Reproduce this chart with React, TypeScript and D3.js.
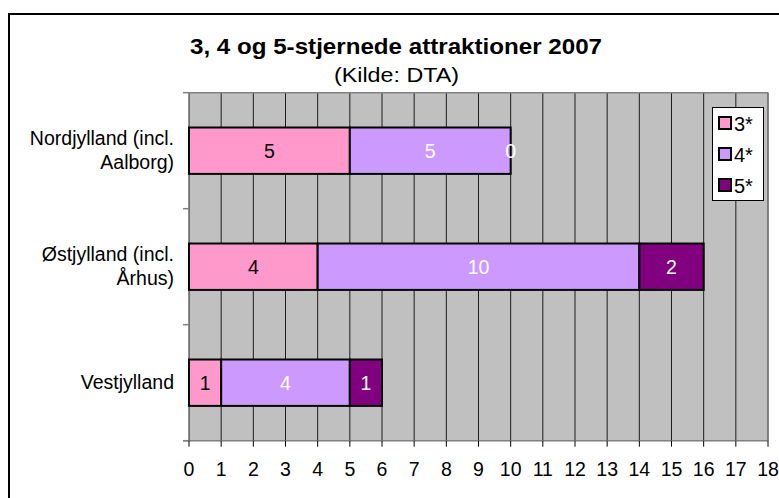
import React from "react";
import * as d3 from "d3";

const categories = ["Nordjylland (incl. Aalborg)", "Østjylland (incl. Århus)", "Vestjylland"];
const categoryLines = [["Nordjylland (incl.", "Aalborg)"], ["Østjylland (incl.", "Århus)"], ["Vestjylland"]];
const seriesNames = ["3*", "4*", "5*"];
const s3 = [5, 4, 1];
const s4 = [5, 10, 4];
const s5 = [0, 2, 1];
const xTicks = d3.range(0, 19);
const colors = ["#FF99CC", "#CC99FF", "#800080"];
const labelColors = ["#000000", "#FFFFFF", "#FFFFFF"];

const W = 779;
const H = 498;
const left = 189;
const right = 768;
const top = 92.7;
const bottom = 440.7;

export default function App() {
  const x = d3.scaleLinear().domain([0, 18]).range([left, right]);
  const y = d3.scaleBand<string>().domain(categories).range([top, bottom]).paddingInner(0.6).paddingOuter(0.3);
  const series = [s3, s4, s5];
  const stack = categories.map((c, i) => {
    let acc = 0;
    return series.map((s, k) => {
      const x0 = acc;
      acc += s[i];
      return { k, x0, x1: acc, v: s[i] };
    });
  });
  const step = y.step();
  const font = "'Liberation Sans', Arial, sans-serif";
  return (
    <div style={{ position: "absolute", left: 0, top: 0 }}>
      <svg width={W} height={H} style={{ display: "block", fontFamily: font }}>
        <rect x={0} y={0} width={W} height={H} fill="#fff" />
        <rect x={9} y={14} width={900} height={700} fill="#fff" stroke="#000" strokeWidth={2} />
        <text x={190} y={54} fontSize={22.5} fontWeight="bold" textLength={412} lengthAdjust="spacingAndGlyphs">3, 4 og 5-stjernede attraktioner 2007</text>
        <text x={334} y={81.5} fontSize={21} textLength={125} lengthAdjust="spacingAndGlyphs">(Kilde: DTA)</text>
        <rect x={left} y={top} width={right - left} height={bottom - top} fill="#C0C0C0" />
        {xTicks.map((t) => (
          <line key={t} x1={x(t)} x2={x(t)} y1={top} y2={bottom} stroke="#000" strokeWidth={1} opacity={0.85} />
        ))}
        <line x1={right} x2={right} y1={top} y2={bottom} stroke="#808080" strokeWidth={1.5} />
        <line x1={left} x2={right} y1={top} y2={top} stroke="#808080" strokeWidth={1.5} />
        {stack.map((segs, i) =>
          segs.map((sg) => (
            <rect key={i + "-" + sg.k} x={x(sg.x0)} y={y(categories[i])!} width={x(sg.x1) - x(sg.x0)} height={y.bandwidth()} fill={colors[sg.k]} stroke="#000" strokeWidth={2} />
          ))
        )}
        {stack.map((segs, i) =>
          segs.map((sg) => (
            <text key={"l" + i + "-" + sg.k} x={(x(sg.x0) + x(sg.x1)) / 2} y={y(categories[i])! + y.bandwidth() / 2 + 7} textAnchor="middle" fontSize={19.5} fill={labelColors[sg.k]}>{sg.v}</text>
          ))
        )}
        <line x1={left - 6} x2={right} y1={bottom} y2={bottom} stroke="#808080" strokeWidth={1.5} />
        <line x1={left - 6} x2={left} y1={top} y2={top} stroke="#808080" strokeWidth={1.5} />
        {categories.map((c, i) => (
          <line key={"yt" + i} x1={left - 6} x2={left} y1={y(c)! - y.paddingOuter() * step + step} y2={y(c)! - y.paddingOuter() * step + step} stroke="#808080" strokeWidth={1.5} />
        ))}
        {xTicks.map((t) => (
          <g key={"xt" + t}>
            <line x1={x(t)} x2={x(t)} y1={bottom} y2={bottom + 6} stroke="#000" />
            <text x={x(t)} y={476} textAnchor="middle" fontSize={19.5}>{t}</text>
          </g>
        ))}
        {categories.map((c, i) => {
          const lines = categoryLines[i];
          const cy = y(c)! + y.bandwidth() / 2;
          return (
            <text key={"c" + i} x={174} textAnchor="end" fontSize={19.5}>
              {lines.map((ln, j) => (
                <tspan key={j} x={174} y={cy + 6.5 + (j - (lines.length - 1) / 2) * 24}>{ln}</tspan>
              ))}
            </text>
          );
        })}
        <rect x={712.5} y={107.5} width={51} height={93} fill="#fff" stroke="#000" strokeWidth={1} />
        {seriesNames.map((n, k) => (
          <g key={"lg" + k}>
            <rect x={719} y={117 + k * 31} width={12} height={12} fill={colors[k]} stroke="#000" strokeWidth={2} />
            <text x={734} y={131 + k * 31} fontSize={20}>{n}</text>
          </g>
        ))}
      </svg>
    </div>
  );
}
